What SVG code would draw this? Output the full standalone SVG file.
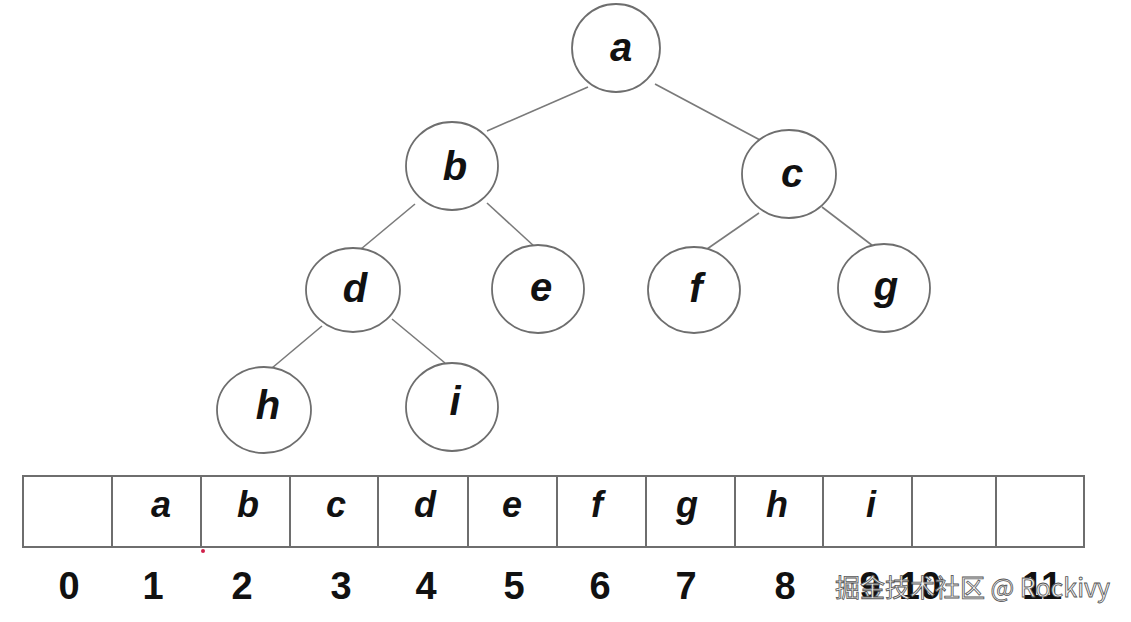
<svg xmlns="http://www.w3.org/2000/svg" width="1131" height="622" viewBox="0 0 1131 622">
<style>
.node ellipse{fill:#fff;stroke:#6e6e6e;stroke-width:1.8}
.node text,.cell{font-family:"Liberation Sans",Arial,sans-serif;font-weight:bold;font-style:italic;fill:#111;text-anchor:middle}
.node text{font-size:40px}
.cell{font-size:36px}
.edges line{stroke:#7a7a7a;stroke-width:1.6}
.arr rect,.arr line{fill:none;stroke:#6e6e6e;stroke-width:2}
.num{font-family:"Liberation Sans",Arial,sans-serif;font-weight:bold;font-size:38px;fill:#111;text-anchor:middle}
.wm{font-family:"Noto Sans CJK SC","Liberation Sans",sans-serif;font-size:25px;fill:#f4f4f4;stroke:#555;stroke-width:0.8}
</style>
<rect width="1131" height="622" fill="#fff"/>
<g class="edges">
<line x1="588" y1="87" x2="487" y2="131"/>
<line x1="655" y1="84" x2="760" y2="140"/>
<line x1="415" y1="204" x2="361" y2="249"/>
<line x1="487" y1="203" x2="535" y2="247"/>
<line x1="759" y1="213" x2="707" y2="249"/>
<line x1="822" y1="207" x2="873" y2="246"/>
<line x1="322" y1="326" x2="272" y2="368"/>
<line x1="392" y1="319" x2="445" y2="363"/>
</g>
<g id="node-a" class="node"><ellipse cx="616" cy="48" rx="44" ry="44"/><text x="621" y="61">a</text></g>
<g id="node-b" class="node"><ellipse cx="452" cy="166" rx="46" ry="44"/><text x="455" y="180">b</text></g>
<g id="node-c" class="node"><ellipse cx="789" cy="174" rx="47" ry="44"/><text x="792" y="187">c</text></g>
<g id="node-d" class="node"><ellipse cx="353" cy="290" rx="47" ry="42"/><text x="355" y="302">d</text></g>
<g id="node-e" class="node"><ellipse cx="538" cy="289" rx="46" ry="44"/><text x="541" y="301">e</text></g>
<g id="node-f" class="node"><ellipse cx="694" cy="290" rx="46" ry="43"/><text x="696" y="302">f</text></g>
<g id="node-g" class="node"><ellipse cx="884" cy="288" rx="46" ry="44"/><text x="886" y="300">g</text></g>
<g id="node-h" class="node"><ellipse cx="264" cy="410" rx="47" ry="43"/><text x="268" y="419">h</text></g>
<g id="node-i" class="node"><ellipse cx="452" cy="407" rx="46" ry="44"/><text x="455" y="415">i</text></g>
<g id="array" class="arr">
<rect x="23" y="476" width="1061" height="71"/>
<line x1="112" y1="476" x2="112" y2="547"/>
<line x1="201" y1="476" x2="201" y2="547"/>
<line x1="290" y1="476" x2="290" y2="547"/>
<line x1="378" y1="476" x2="378" y2="547"/>
<line x1="468" y1="476" x2="468" y2="547"/>
<line x1="557" y1="476" x2="557" y2="547"/>
<line x1="646" y1="476" x2="646" y2="547"/>
<line x1="735" y1="476" x2="735" y2="547"/>
<line x1="823" y1="476" x2="823" y2="547"/>
<line x1="912" y1="476" x2="912" y2="547"/>
<line x1="996" y1="476" x2="996" y2="547"/>
</g>
<g id="array-values">
<text class="cell" x="161" y="517">a</text>
<text class="cell" x="248" y="517">b</text>
<text class="cell" x="336" y="517">c</text>
<text class="cell" x="425" y="517">d</text>
<text class="cell" x="512" y="517">e</text>
<text class="cell" x="597" y="517">f</text>
<text class="cell" x="687" y="517">g</text>
<text class="cell" x="777" y="517">h</text>
<text class="cell" x="871" y="517">i</text>
</g>
<g id="indices">
<text class="num" x="69" y="599">0</text>
<text class="num" x="153" y="599">1</text>
<text class="num" x="242" y="599">2</text>
<text class="num" x="341" y="599">3</text>
<text class="num" x="426" y="599">4</text>
<text class="num" x="514" y="599">5</text>
<text class="num" x="600" y="599">6</text>
<text class="num" x="686" y="599">7</text>
<text class="num" x="785" y="599">8</text>
<text class="num" x="870" y="599">9</text>
<text class="num" x="920" y="599">10</text>
<text class="num" x="1042" y="599">11</text>
</g>
<circle cx="203" cy="551" r="2" fill="#d0204a"/>
<text class="wm" x="835" y="597">掘金技术社区 @ Rockivy</text>
</svg>
